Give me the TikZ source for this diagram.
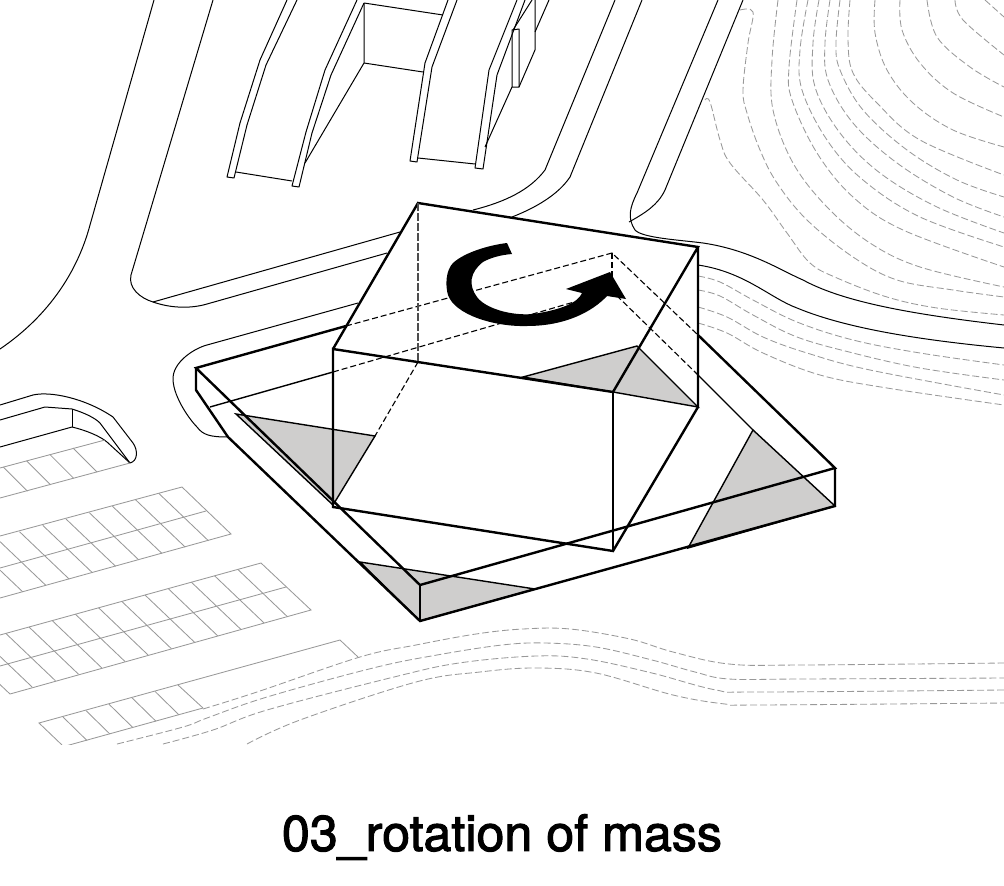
\documentclass[tikz,border=0pt]{standalone}
\usepackage{fontspec}
\setmainfont{TeX Gyre Heros}
\newfontfamily\captionfont[FakeBold=2]{TeX Gyre Heros}
\definecolor{shadegray}{HTML}{CFCECD}
\definecolor{contourgray}{HTML}{999999}
\tikzset{
  siteline/.style={line width=1pt,line join=round},
  contourline/.style={contourgray,line width=0.85pt,dash pattern=on 7pt off 3pt},
  parkline/.style={contourgray,line width=0.85pt},
  massthick/.style={line width=2.4pt,line join=miter},
  massthin/.style={line width=1.4pt},
  hiddenline/.style={line width=1.1pt,dash pattern=on 6pt off 3pt},
  shadeface/.style={fill=shadegray}
}
\begin{document}
\begin{tikzpicture}[x=1pt,y=-1pt]
    \useasboundingbox (0,0) rectangle (1004,886);

    \begin{scope}
    \clip (0,0) rectangle (1004,744);
    % roads
    \draw[siteline] (154,0) -- (90,225) .. controls (78,270) and (50,315) .. (0,349);
    \draw[siteline] (213,0) -- (131,275) .. controls (128,288) and (140,298) .. (153,302) .. controls (170,308) and (190,309) .. (207,304) -- (387,253);
    \draw[siteline] (153,302) -- (400,232);
    \draw[siteline] (473,210) .. controls (505,202) and (530,190) .. (545,170) -- (615,0);
    \draw[siteline] (512,217) .. controls (535,208) and (558,195) .. (570,177) -- (642,0);
    \draw[siteline] (718,0) -- (637,193) .. controls (630,207) and (627,218) .. (635,230) .. controls (642,238) and (680,240) .. (703,243) .. controls (750,250) and (780,270) .. (803,280) .. controls (840,300) and (900,313) .. (1004,325);
    \draw[siteline] (743,0) -- (665,190) .. controls (658,205) and (645,213) .. (629,222);
    \draw[siteline] (698,265) .. controls (745,272) and (770,298) .. (797,308) .. controls (850,330) and (930,341) .. (1004,348);
    \draw[siteline] (358,303) -- (207,345) .. controls (195,348) and (172,362) .. (173,380) .. controls (174,398) and (190,420) .. (197,427) .. controls (203,435) and (210,437) .. (228,437);

    % building at the top
    \draw[siteline] (287,0) -- (260,60) -- (240,123) -- (227,177) -- (234,178) -- (247,125) -- (266,65) -- (297,0);
    \draw[siteline] (236,172) -- (292,181);
    \draw[siteline] (357,0) -- (325,70) -- (306,132) -- (292,186) -- (299,187) -- (312,133) -- (331,75) -- (364,3);
    \draw[siteline] (364,3) -- (364,63) -- (305,163);
    \draw[siteline] (364,3) -- (443,15);
    \draw[siteline] (364,63) -- (423,72);
    \draw[siteline] (448,0) -- (425,63) -- (410,161) -- (417,162) -- (432,67) -- (457,0);
    \draw[siteline] (418,158) -- (475,164);
    \draw[siteline] (517,0) -- (489,70) -- (475,168) -- (483,169) -- (497,75) -- (525,0);
    \draw[siteline] (485,147) -- (512,87);
    \draw[siteline] (532,0) -- (513,30);
    \draw[siteline] (512,30) -- (512,87) -- (519,87) -- (519,29) -- cycle;
    \draw[siteline] (519,87) -- (535,50) -- (535,0);
    \draw[siteline] (549,0) -- (535,32);

    % ramp on the left
    \draw[siteline] (0,405) -- (33,395) .. controls (50,391) and (85,398) .. (113,417) -- (133,443) .. controls (138,450) and (138,461) .. (130,463);
    \draw[siteline] (0,420) -- (45,407) -- (72,409) .. controls (85,413) and (95,418) .. (100,423) -- (130,463);
    \draw[siteline] (0,447) -- (72,427) .. controls (85,430) and (100,436) .. (107,442) -- (130,463);
    \draw[siteline] (72,409) -- (72,427);

    % parking
    \draw[parkline] (0,468) -- (105,440);
    \draw[parkline] (0,498) -- (130,463);
    \foreach \i in {0,...,3}
      \draw[parkline] ({73-23.2*\i},{448+6.4*\i}) -- ++(24,24);
    \draw[parkline] (182,487) -- (231,534) -- (0,598);
    \draw[parkline] (182,487) -- (0,536);
    \draw[parkline] (206,511) -- (0,568);
    \foreach \i in {1,...,9}
      \draw[parkline] ({182-23.2*\i},{487+6.4*\i}) -- ++(49.6,47.3);
    \draw[parkline] (261,563) -- (311,610) -- (10,694) -- (-40,646.7);
    \draw[parkline] (261,563) -- (0,635);
    \draw[parkline] (286,587) -- (0,666);
    \foreach \i in {1,...,12}
      \draw[parkline] ({261-23.2*\i},{563+6.4*\i}) -- ++(49.6,47.3);
    \draw[parkline] (358,657) -- (340,640) -- (39,723) -- (62,745);
    \draw[parkline] (203,708) -- (178,685);
    \draw[parkline] (203,708) -- (62,747);
    \foreach \i in {1,...,5}
      \draw[parkline] ({178-23*\i},{685+6.4*\i}) -- ++(24,23.5);

    % contours below
    \draw[contourline] plot[smooth,tension=.6] coordinates {(203,709) (257,692) (360,657) (416,645) (476,634) (523,629) (570,629) (630,639) (673,652) (729,664) (802,665) (1004,663)};
    \draw[contourline] plot[smooth,tension=.6] coordinates {(117,744) (183,727) (207,718) (267,697) (373,668) (437,655) (502,645) (545,643) (596,647) (652,660) (695,672) (729,679) (802,679) (1004,678)};
    \draw[contourline] plot[smooth,tension=.6] coordinates {(163,744) (213,730) (267,710) (394,677) (459,663) (536,656) (587,659) (652,673) (716,690) (759,692) (1004,690)};
    \draw[contourline] plot[smooth,tension=.6] coordinates {(247,744) (300,720) (416,682) (480,672) (536,668) (596,673) (673,695) (725,704) (759,705) (1004,703)};

    % contours to the right
    \draw[contourline] plot[smooth,tension=.6] coordinates {(698,276) (720,282) (753,300) (797,322) (853,340) (920,353) (1004,365)};
    \draw[contourline] plot[smooth,tension=.6] coordinates {(698,290) (720,296) (753,315) (797,337) (853,353) (920,368) (1004,380)};
    \draw[contourline] plot[smooth,tension=.6] coordinates {(698,307) (727,317) (763,337) (807,353) (870,370) (1004,395)};
    \draw[contourline] plot[smooth,tension=.6] coordinates {(698,323) (727,333) (763,353) (820,375) (887,388) (1004,405)};

    % contours on the hill
    \draw[contourline] plot[smooth,tension=.6] coordinates {(705,100) (710,102) (720,140) (730,163) (763,200) (787,233) (810,263) (837,278) (887,297) (937,308) (1004,315)};
    \draw[contourline] plot[smooth,tension=.6] coordinates {(740,10) (753,12) (748,43) (743,90) (747,113) (760,150) (777,183) (807,220) (853,257) (897,280) (953,290) (1004,297)};
    \draw[contourline] plot[smooth,tension=.6] coordinates {(778,0) (772,60) (773,110) (793,163) (827,207) (870,243) (920,267) (1004,287)};
    \draw[contourline] plot[smooth,tension=.6] coordinates {(797,0) (789,67) (792,100) (817,153) (853,197) (903,230) (1004,267)};
    \draw[contourline] plot[smooth,tension=.6] coordinates {(808,0) (800,50) (802,90) (827,140) (863,180) (920,217) (1004,247)};
    \draw[contourline] plot[smooth,tension=.6] coordinates {(819,0) (813,43) (815,87) (840,133) (880,173) (937,207) (1004,233)};
    \draw[contourline] plot[smooth,tension=.6] coordinates {(830,0) (825,43) (828,80) (853,123) (897,163) (953,197) (1004,217)};
    \draw[contourline] plot[smooth,tension=.6] coordinates {(840,0) (836,43) (840,70) (863,110) (907,150) (957,180) (1004,197)};
    \draw[contourline] plot[smooth,tension=.6] coordinates {(850,0) (848,40) (853,73) (877,103) (920,140) (1004,175)};
    \draw[contourline] plot[smooth,tension=.6] coordinates {(875,0) (875,33) (887,70) (913,103) (953,130) (1004,147)};
    \draw[contourline] plot[smooth,tension=.6] coordinates {(900,0) (902,30) (920,63) (953,93) (1004,117)};
    \draw[contourline] plot[smooth,tension=.6] coordinates {(927,0) (937,37) (970,67) (1004,87)};
    \draw[contourline] plot[smooth,tension=.6] coordinates {(955,0) (963,20) (1004,55)};
    \draw[contourline] plot[smooth,tension=.6] coordinates {(985,0) (1004,17)};
    \end{scope}

    % white behind the masses
    \fill[white] (196,368) -- (346,326) -- (418,203) -- (698,247) -- (698,335) -- (835,468) -- (835,506) -- (420,621) -- (228,437) -- (196,390) -- cycle;

    % shaded faces
    \draw[massthin,shadeface] (236,414) -- (375,436) -- (333,505) -- cycle;
    \draw[massthin,shadeface] (523,377) -- (637,346) -- (698,407) -- (613,392) -- cycle;
    \draw[massthin,shadeface] (753,430) -- (835,506) -- (688,548) -- cycle;
    \draw[massthin,shadeface] (360,562) -- (535,589) -- (420,621) -- cycle;

    % slab
    \draw[massthick] (346,326) -- (196,368) -- (420,585) -- (835,468) -- (698,335);
    \draw[massthick] (196,368) -- (196,390) -- (228,437) -- (420,621) -- (835,506) -- (835,468);
    \draw[massthin] (420,585) -- (420,621);
    \draw[massthin] (210,407) -- (333,372);
    \draw[massthin] (695,372) -- (753,430);
    \draw[hiddenline] (346,326) -- (612,253) -- (698,335);
    \draw[hiddenline] (333,372) -- (612,291) -- (695,372);
    \draw[hiddenline] (612,253) -- (612,291);

    % mass
    \draw[massthick] (333,349) -- (418,203) -- (698,247) -- (613,392) -- (333,349) -- (333,507) -- (613,551) -- (698,407) -- (698,247);
    \draw[massthin] (613,392) -- (613,551);
    \draw[massthin,dash pattern=on 8pt off 2pt,black!70] (418,203) -- (418,362);
    \draw[hiddenline] (418,362) -- (375,436);

    % rotation arrow
    \fill (507,243) .. controls (490,245) and (465,252) .. (453,263) .. controls (446,270) and (445,285) .. (448,295) .. controls (455,315) and (495,327) .. (527,326) .. controls (565,326) and (592,312) .. (607,296) -- (626,299) -- (610,272) -- (566,289) -- (582,293) .. controls (578,303) and (560,310) .. (533,314) .. controls (510,316) and (485,308) .. (477,297) .. controls (468,285) and (470,272) .. (483,262) .. controls (490,258) and (500,255) .. (512,254) -- cycle;

    \node (caption) at (502,837) {\fontsize{50.2}{60}\selectfont\captionfont 03\_rotation of mass};
\end{tikzpicture}
\end{document}
